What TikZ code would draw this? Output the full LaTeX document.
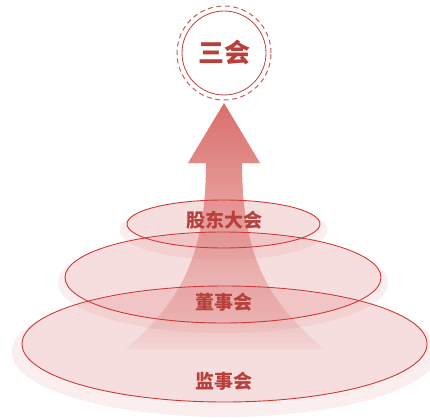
\documentclass[tikz,border=0pt]{standalone}
\usepackage{fontspec}
\newfontfamily\cjk{Noto Sans CJK SC}
\usetikzlibrary{shapes.geometric}

\definecolor{huired}{HTML}{B8403A}
\definecolor{rimred}{HTML}{CE3838}
\definecolor{blush}{HTML}{DE7C7C}
\definecolor{arrowtop}{HTML}{DA706C}
\definecolor{arrowbot}{HTML}{FDF7F7}

\tikzset{
  halo/.style={ellipse, inner sep=0pt, fill=blush, fill opacity=0.13},
  layer/.style={ellipse, inner sep=0pt, fill=blush, fill opacity=0.14},
  rim/.style={ellipse, inner sep=0pt, draw=rimred, line width=0.9pt},
  lab/.style={text=huired, font=\cjk\bfseries\fontsize{19}{19}\selectfont},
}

\def\midx{224}

\begin{document}
\begin{tikzpicture}[x=1pt, y=-1pt]
  \useasboundingbox (0,0) rectangle (430,417);

  % the rising arrow, filled strip by strip
  \begin{scope}
    \clip (\midx,103) -- (260,163) -- (242,163)
      .. controls (242,262) and (272,305) .. (325,350)
      -- (125,350)
      .. controls (176,305) and (206,262) .. (206,163)
      -- (188,163) -- cycle;
    \foreach \k in {0,...,49}{
      \pgfmathsetmacro\mix{100*(1-\k/49)^0.8}
      \fill[arrowtop!\mix!arrowbot] (120,103+\k*5) rectangle (330,103+\k*5+5.6);
    }
  \end{scope}

  % levels: name / centre x / centre y / width / height / halo y / halo width / halo height
  \foreach \lv/\cx/\cy/\w/\h/\hy/\hw/\hh in {
      js/224.5/344/405/116/352/426/130,
      ds/223/277.5/316/91/283/330/100,
      gd/223.5/224/193/48/230/208/60}{
    \node[halo, minimum width=\hw pt, minimum height=\hh pt] (\lv-halo) at (\cx,\hy) {};
    \node[layer, minimum width=\w pt, minimum height=\h pt] (\lv) at (\cx,\cy) {};
  }

  % outlines on top
  \foreach \lv/\w/\h in {js/405/116, ds/316/91, gd/193/48}{
    \node[rim, minimum width=\w pt, minimum height=\h pt] (\lv-rim) at (\lv) {};
  }

  % labels
  \node[lab] (gdtxt) at (\midx,220) {股东大会};
  \node[lab] (dstxt) at (\midx,302) {董事会};
  \node[lab] (jstxt) at (\midx,381) {监事会};

  % top circle
  \node[circle, draw=huired, line width=0.8pt, minimum size=84pt, inner sep=0pt,
        text=huired, font=\cjk\bfseries\fontsize{26}{26}\selectfont] (sanhui) at (\midx,53) {三会};
  \draw[huired!85, line width=1pt, dash pattern=on 5pt off 3.5pt] (sanhui.center) circle (47pt);
\end{tikzpicture}
\end{document}
